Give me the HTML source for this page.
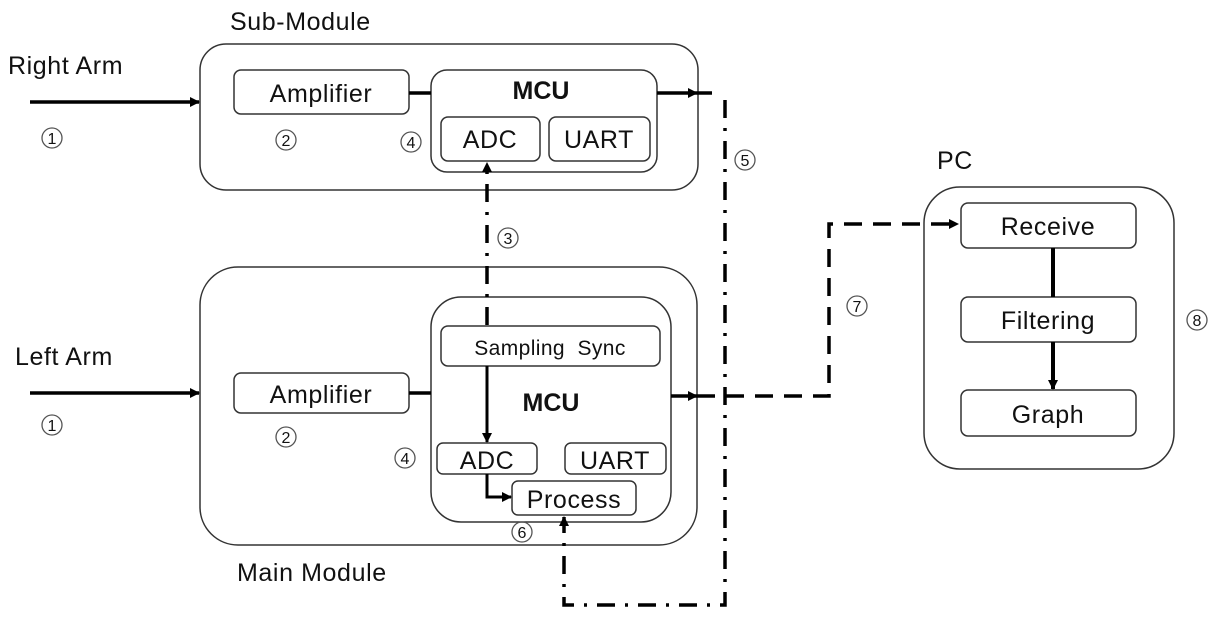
<!DOCTYPE html>
<html><head><meta charset="utf-8"><style>
html,body{margin:0;padding:0;background:#fff;}
svg{display:block;}
text{font-family:"Liberation Sans","DejaVu Sans",sans-serif;fill:#111;}
</style></head><body>
<svg width="1222" height="621" viewBox="0 0 1222 621" xmlns="http://www.w3.org/2000/svg">
<defs>
<marker id="ah" markerWidth="10" markerHeight="10" refX="9" refY="5" orient="auto" markerUnits="userSpaceOnUse">
<path d="M0,0 L10,5 L0,10 z" fill="#000"/></marker>
</defs>
<g fill="none" stroke="#333" stroke-width="1.5">
<rect x="200" y="44" width="498" height="146" rx="26"/>
<rect x="234" y="70" width="175" height="44" rx="7"/>
<rect x="431" y="70" width="226" height="102" rx="16"/>
<rect x="441" y="117" width="99" height="44" rx="7"/>
<rect x="549" y="117" width="101" height="44" rx="7"/>
<rect x="200" y="267" width="497" height="278" rx="38"/>
<rect x="234" y="373" width="175" height="40" rx="7"/>
<rect x="431" y="297" width="240" height="225" rx="30"/>
<rect x="441" y="326" width="219" height="40" rx="7"/>
<rect x="437" y="443" width="100" height="31" rx="6"/>
<rect x="565" y="443" width="101" height="31" rx="6"/>
<rect x="512" y="481" width="124" height="34" rx="6"/>
<rect x="924" y="187" width="250" height="282" rx="36"/>
<rect x="961" y="203" width="175" height="45" rx="7"/>
<rect x="961" y="297" width="175" height="45" rx="7"/>
<rect x="961" y="390" width="175" height="46" rx="7"/>
</g>
<g stroke="#000" stroke-width="3.5" fill="none">
<line x1="30" y1="102" x2="199" y2="102" marker-end="url(#ah)"/>
<line x1="30" y1="393" x2="199" y2="393" marker-end="url(#ah)"/>
<line x1="409" y1="93" x2="431" y2="93"/>
<line x1="409" y1="393" x2="431" y2="393"/>
<line x1="657" y1="93" x2="697" y2="93" marker-end="url(#ah)"/>
<line x1="697" y1="93" x2="712" y2="93"/>
<line x1="671" y1="396" x2="697" y2="396" marker-end="url(#ah)"/>
<line x1="487" y1="366" x2="487" y2="442" stroke-width="3" marker-end="url(#ah)"/>
<polyline points="487,474 487,497 511,497" stroke-width="3" marker-end="url(#ah)"/>
<line x1="1053" y1="248" x2="1053" y2="297" stroke-width="4"/>
<line x1="1053" y1="342" x2="1053" y2="389" stroke-width="4" marker-end="url(#ah)"/>
<polyline points="697,396 829,396 829,224 958,224" stroke-dasharray="18,11" marker-end="url(#ah)"/>
<polyline points="725,100 725,605 564,605 564,517" stroke-dasharray="18,10,3,10" marker-end="url(#ah)"/>
<line x1="487" y1="325" x2="487" y2="163" stroke-dasharray="18,10,3,10" marker-end="url(#ah)"/>
</g>
<g font-size="25" letter-spacing="0.6">
<text x="8" y="74">Right Arm</text>
<text x="15" y="365">Left Arm</text>
<text x="230" y="30">Sub-Module</text>
<text x="237" y="581">Main Module</text>
<text x="937" y="169">PC</text>
<text x="321" y="102" text-anchor="middle">Amplifier</text>
<text x="321" y="403" text-anchor="middle">Amplifier</text>
<text x="490" y="148" text-anchor="middle">ADC</text>
<text x="599" y="148" text-anchor="middle">UART</text>
<text x="487" y="469" text-anchor="middle">ADC</text>
<text x="615" y="469" text-anchor="middle">UART</text>
<text x="574" y="508" text-anchor="middle">Process</text>
<text x="1048" y="235" text-anchor="middle">Receive</text>
<text x="1048" y="329" text-anchor="middle">Filtering</text>
<text x="1048" y="423" text-anchor="middle">Graph</text>
</g>
<text x="550" y="355" font-size="21" text-anchor="middle" letter-spacing="0.4">Sampling&#160;&#160;Sync</text>
<g font-size="25" font-weight="bold">
<text x="541" y="99" text-anchor="middle">MCU</text>
<text x="551" y="411" text-anchor="middle">MCU</text>
</g>
<g fill="none" stroke="#555" stroke-width="1.3">
<circle cx="52" cy="138" r="10"/>
<circle cx="52" cy="425" r="10"/>
<circle cx="286" cy="140" r="10"/>
<circle cx="286" cy="437" r="10"/>
<circle cx="411" cy="142" r="10"/>
<circle cx="405" cy="458" r="10"/>
<circle cx="508" cy="238" r="10"/>
<circle cx="745" cy="160" r="10"/>
<circle cx="522" cy="532" r="10"/>
<circle cx="857" cy="306" r="10"/>
<circle cx="1197" cy="320" r="10"/>
</g>
<g font-size="16" text-anchor="middle" fill="#222">
<text x="52" y="144">1</text>
<text x="52" y="431">1</text>
<text x="286" y="146">2</text>
<text x="286" y="443">2</text>
<text x="411" y="148">4</text>
<text x="405" y="464">4</text>
<text x="508" y="244">3</text>
<text x="745" y="166">5</text>
<text x="522" y="538">6</text>
<text x="857" y="312">7</text>
<text x="1197" y="326">8</text>
</g>
</svg>
</body></html>
